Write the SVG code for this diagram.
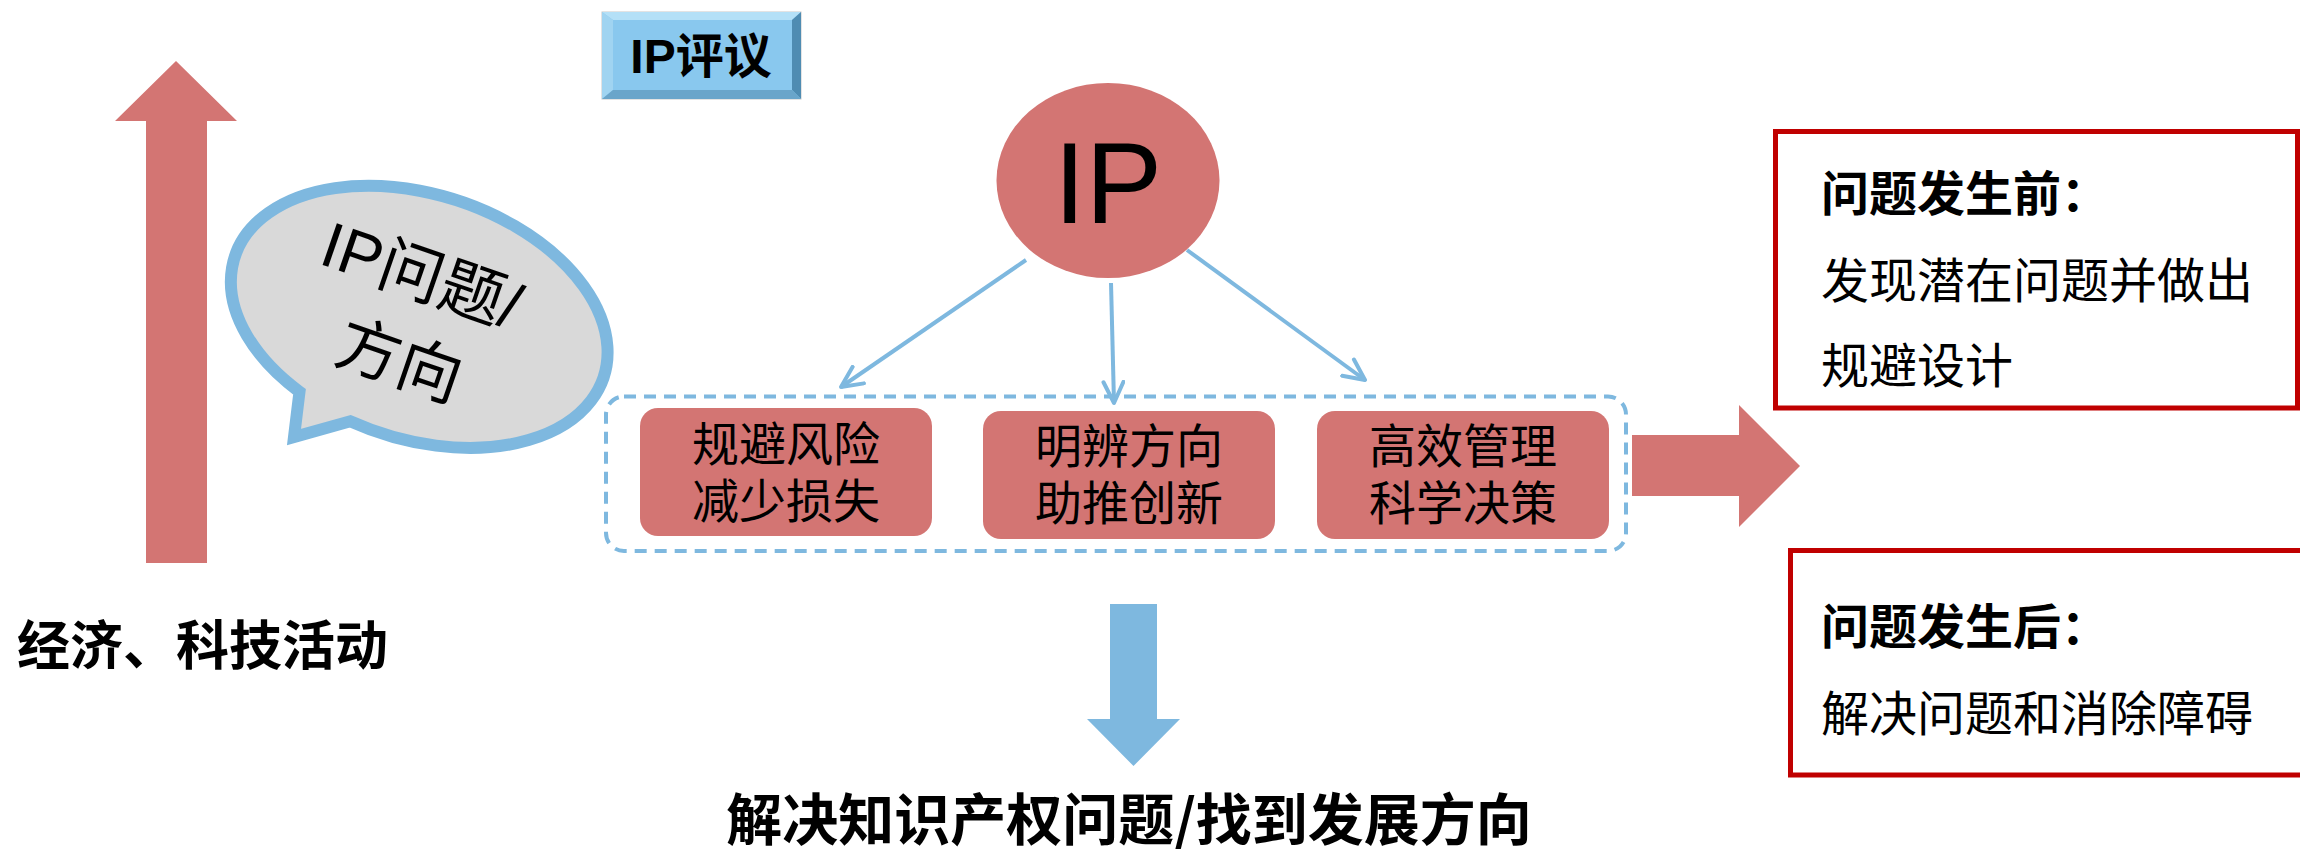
<svg xmlns="http://www.w3.org/2000/svg" width="2300" height="849" viewBox="0 0 2300 849">
<defs>
<style>
.pink{fill:#D37573;}
.cj{font-family:"Noto Sans CJK SC","Liberation Sans",sans-serif;fill:#000;}
.lat{font-family:"Liberation Sans","Noto Sans CJK SC",sans-serif;fill:#000;}
.b{font-weight:bold;}
.conn{stroke:#7EB8DF;stroke-width:4;fill:none;}
.redbox{fill:none;stroke:#C00000;stroke-width:5;}
.box{fill:#D37573;}
</style>
<marker id="ah" viewBox="0 0 26 24" refX="23" refY="12" markerWidth="26" markerHeight="24" markerUnits="userSpaceOnUse" orient="auto">
<path d="M2,2 L23,12 L2,22" fill="none" stroke="#7EB8DF" stroke-width="4" stroke-linecap="round" stroke-linejoin="round"/>
</marker>
</defs>
<rect width="2300" height="849" fill="#fff"/>

<g id="up-arrow">
<polygon class="pink" points="176,61 237,121 207,121 207,563 146,563 146,121 115,121"/>
</g>
<g id="activity-label">
<text class="cj b" x="17" y="665" font-size="53">经济、科技活动</text>
</g>

<g id="bubble">
<path d="M299.5,391.8 A194,122.5 18 1 1 350.2,421.3 L294,437 Z" fill="#D9D9D9" stroke="#7EB8DF" stroke-width="12" stroke-linejoin="miter"/>
<g transform="translate(317,263) rotate(19)">
<text class="lat" font-size="64" text-anchor="middle"><tspan x="103" y="0">IP问题/</tspan><tspan x="110" y="88">方向</tspan></text>
</g>
</g>

<g id="ip-review">
<rect x="602" y="12" width="199" height="87" fill="#89C8EE" stroke="#C8C8C8" stroke-width="1"/>
<polygon points="602,12 801,12 792,20 613,20" fill="#B4E0F7"/>
<polygon points="602,12 613,20 613,90 602,99" fill="#A0D4F1"/>
<polygon points="801,12 801,99 792,90 792,20" fill="#4F8CB2"/>
<polygon points="602,99 613,90 792,90 801,99" fill="#6AA5CA"/>
<text class="lat b" x="701" y="73" font-size="48" text-anchor="middle">IP评议</text>
</g>

<g id="ip">
<ellipse cx="1108" cy="180.5" rx="111.5" ry="97.5" fill="#D37573"/>
<text class="lat" x="1108" y="223" font-size="115" text-anchor="middle">IP</text>
</g>

<g id="group-box">
<rect x="606" y="396.5" width="1020" height="154.5" rx="18" fill="none" stroke="#7EB8DF" stroke-width="4" stroke-dasharray="12 8"/>
</g>

<g id="box1">
<rect class="box" x="640" y="408" width="292" height="128" rx="18"/>
<text class="cj" font-size="47" text-anchor="middle"><tspan x="786" y="461">规避风险</tspan><tspan x="786" y="518">减少损失</tspan></text>
</g>
<g id="box2">
<rect class="box" x="983" y="411" width="292" height="128" rx="18"/>
<text class="cj" font-size="47" text-anchor="middle"><tspan x="1129" y="463">明辨方向</tspan><tspan x="1129" y="520">助推创新</tspan></text>
</g>
<g id="box3">
<rect class="box" x="1317" y="411" width="292" height="128" rx="18"/>
<text class="cj" font-size="47" text-anchor="middle"><tspan x="1463" y="463">高效管理</tspan><tspan x="1463" y="520">科学决策</tspan></text>
</g>

<g id="connectors">
<line class="conn" x1="1026" y1="260" x2="841" y2="387" marker-end="url(#ah)"/>
<line class="conn" x1="1111" y1="283" x2="1114" y2="403" marker-end="url(#ah)"/>
<line class="conn" x1="1187" y1="250" x2="1365" y2="380" marker-end="url(#ah)"/>
</g>

<g id="right-arrow">
<polygon class="pink" points="1632,435 1739,435 1739,405 1800,466 1739,527 1739,496 1632,496"/>
</g>

<g id="down-arrow">
<polygon fill="#7EB8DF" points="1110,604 1157,604 1157,719 1180,719 1133.5,766 1087,719 1110,719"/>
</g>
<g id="result-label">
<text class="cj b" x="1129" y="840" font-size="56" text-anchor="middle">解决知识产权问题/找到发展方向</text>
</g>

<g id="before">
<rect class="redbox" x="1775.5" y="131.5" width="522" height="276.5"/>
<text class="cj b" x="1821" y="211" font-size="48">问题发生前：</text>
<text class="cj" x="1821" y="298" font-size="48">发现潜在问题并做出</text>
<text class="cj" x="1821" y="383" font-size="48">规避设计</text>
</g>
<g id="after">
<rect class="redbox" x="1790.5" y="550.5" width="530" height="224.5"/>
<text class="cj b" x="1821" y="644" font-size="48">问题发生后：</text>
<text class="cj" x="1821" y="731" font-size="48">解决问题和消除障碍</text>
</g>
</svg>
